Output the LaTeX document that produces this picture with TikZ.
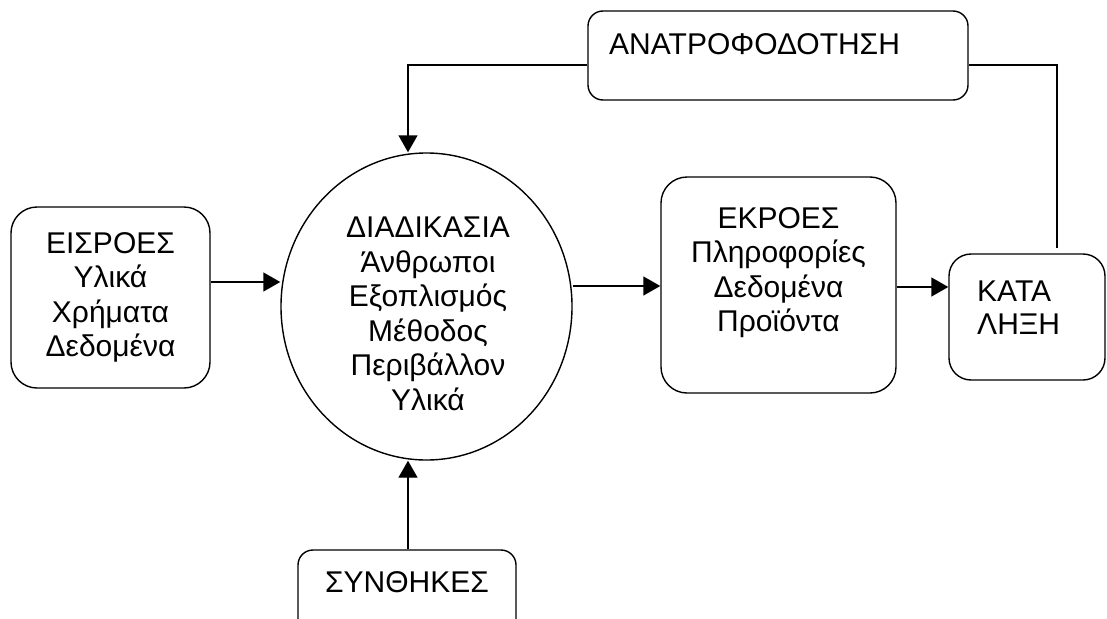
\documentclass[tikz,border=0pt]{standalone}
\usepackage{fontspec}
\setmainfont{Liberation Sans}
\usetikzlibrary{arrows.meta,shapes.geometric}
\begin{document}
\begin{tikzpicture}[x=1pt,y=-1pt,
  every node/.style={font=\fontsize{30}{34.5}\selectfont},
  conn/.style={line width=1.4pt},
  arr/.style={conn,-{Triangle[length=17pt,width=19pt]}},
  rbox/.style={draw,line width=1.4pt,rectangle,inner sep=0pt},
  txt/.style={inner sep=0pt,align=center}]
\useasboundingbox (0,0) rectangle (1107,618);
\clip (0,0) rectangle (1107,618);

% boxes
\node[rbox,rounded corners=26pt,minimum width=199pt,minimum height=181pt,align=center]
  (in) at (110.5,297.5) {ΕΙΣΡΟΕΣ\\Υλικά\\Χρήματα\\Δεδομένα};
\node[draw,ellipse,line width=1.4pt,minimum width=291pt,minimum height=307pt,inner sep=0pt]
  (proc) at (426.5,306.5) {};
\node[txt] (proctext) at (428,314)
  {ΔΙΑΔΙΚΑΣΙΑ\\Άνθρωποι\\Εξοπλισμός\\Μέθοδος\\Περιβάλλον\\Υλικά};
\node[rbox,rounded corners=26pt,minimum width=235pt,minimum height=216pt]
  (out) at (778.5,285) {};
\node[txt,anchor=north] (outtext) at (778.5,207)
  {ΕΚΡΟΕΣ\\Πληροφορίες\\Δεδομένα\\Προϊόντα};
\node[rbox,rounded corners=22pt,minimum width=156pt,minimum height=126pt]
  (kata) at (1027,317) {};
\node[txt,align=left,anchor=north west,font=\fontsize{30}{33}\selectfont]
  (katatext) at (977,280.5) {ΚΑΤΑ\\ΛΗΞΗ};
\node[rbox,rounded corners=15pt,minimum width=380pt,minimum height=89pt]
  (fb) at (778,55.5) {};
\node[txt,anchor=north west] (fbtext) at (609,33) {ΑΝΑΤΡΟΦΟΔΟΤΗΣΗ};
\node[rbox,rounded corners=15pt,minimum width=218pt,minimum height=100pt]
  (cond) at (407,600) {};
\node[txt,anchor=base] (condtext) at (407,592) {ΣΥΝΘΗΚΕΣ};

% reference levels for the connectors
\coordinate (fbx) at (408,0);
\coordinate (fby) at (0,65);
\coordinate (ya) at (0,282);
\coordinate (yb) at (0,286);
\coordinate (yc) at (0,287);
\coordinate (kataTop) at (1057,248);

% connectors
\draw[arr] (in.east |- ya) -- (proc.west |- ya);
\draw[arr] (proc.east |- yb) -- (out.west |- yb);
\draw[arr] (out.east |- yc) -- (kata.west |- yc);
\draw[conn] (kataTop) |- (fb.east |- fby);
\draw[arr] (fb.west |- fby) -| (proc.north -| fbx);
\draw[arr] (cond.north -| fbx) -- (proc.south -| fbx);
\end{tikzpicture}
\end{document}
